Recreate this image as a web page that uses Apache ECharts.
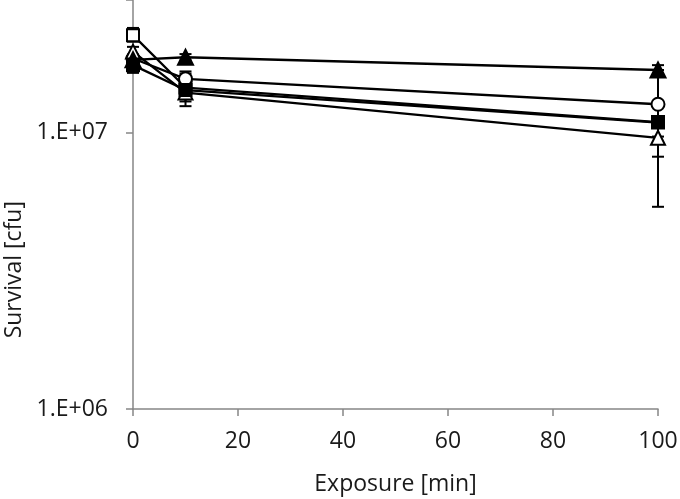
<!DOCTYPE html>
<html>
<head>
<meta charset="utf-8">
<script src="https://cdn.jsdelivr.net/npm/echarts@6/dist/echarts.min.js"></script>
<style>html,body{margin:0;padding:0;background:#fff}#c{width:680px;height:499px}</style>
</head>
<body>
<div id="c"></div>
<script>
const exposure = [0, 10, 100];
const xTicks = [0, 20, 40, 60, 80, 100];
const yTickLabels = ['1.E+06', '1.E+07'];

// survival values (cfu)
const openSquare   = [2.26e7, 1.46e7, 1.095e7];
const openTriangle = [1.97e7, 1.40e7, 9.6e6];
const openCircle   = [1.86e7, 1.57e7, 1.27e7];
const filledTri    = [1.84e7, 1.88e7, 1.69e7];
const filledSquare = [1.76e7, 1.43e7, 1.09e7];

// error bar ranges [low, high]
const openSquareErr   = [[2.14e7, 2.40e7], [1.30e7, 1.67e7], [1.05e7, 1.13e7]];
const openTriangleErr = [[1.88e7, 2.05e7], [1.25e7, 1.55e7], [5.4e6, 1.27e7]];
const openCircleErr   = [[1.8e7, 1.92e7], [1.50e7, 1.64e7], [9.7e6, 1.69e7]];
const filledTriErr    = [[1.78e7, 1.9e7], [1.83e7, 1.93e7], [1.62e7, 1.76e7]];
const filledSquareErr = [[1.65e7, 1.87e7], [1.36e7, 1.5e7], [8.2e6, 1.27e7]];

const Y_MIN = 1e6;
const Y_MAX = 3.03e7;

const FONT = 'Open Sans';
const seriesDefs = [
  {name: 'openSquare', vals: openSquare, err: openSquareErr, symbol: 'rect', size: 12, fill: '#fff'},
  {name: 'openCircle', vals: openCircle, err: openCircleErr, symbol: 'circle', size: 13, fill: '#fff'},
  {name: 'openTriangle', vals: openTriangle, err: openTriangleErr, symbol: 'triangle', size: 14, fill: '#fff'},
  {name: 'filledTri', vals: filledTri, err: filledTriErr, symbol: 'triangle', size: 15, fill: '#000'},
  {name: 'filledSquare', vals: filledSquare, err: filledSquareErr, symbol: 'rect', size: 12, fill: '#000'}
];

const series = [];
seriesDefs.forEach(function (d) {
  series.push({
    type: 'custom',
    name: d.name + '_err',
    z: 1,
    silent: true,
    data: exposure.map(function (x, i) { return [x, d.err[i][0], d.err[i][1]]; }),
    renderItem: function (params, api) {
      const lo = api.coord([api.value(0), api.value(1)]);
      const hi = api.coord([api.value(0), api.value(2)]);
      const w = 6;
      const st = {stroke: '#000', lineWidth: 2};
      return {type: 'group', children: [
        {type: 'line', shape: {x1: lo[0], y1: lo[1], x2: hi[0], y2: hi[1]}, style: st},
        {type: 'line', shape: {x1: lo[0] - w, y1: lo[1], x2: lo[0] + w, y2: lo[1]}, style: st},
        {type: 'line', shape: {x1: hi[0] - w, y1: hi[1], x2: hi[0] + w, y2: hi[1]}, style: st}
      ]};
    }
  });
});
seriesDefs.forEach(function (d, k) {
  series.push({
    type: 'line',
    name: d.name,
    z: 2 + k,
    data: exposure.map(function (x, i) { return [x, d.vals[i]]; }),
    symbol: d.symbol,
    symbolSize: d.size,
    showAllSymbol: true,
    lineStyle: {color: '#000', width: 2.3},
    itemStyle: {color: d.fill, borderColor: '#000', borderWidth: 2},
    emphasis: {disabled: true},
    animation: false
  });
});

const chart = echarts.init(document.getElementById('c'), null, {renderer: 'canvas'});
chart.setOption({
  animation: false,
  backgroundColor: '#fff',
  grid: {left: 133, right: 22, top: 0, bottom: 90, containLabel: false, outerBoundsMode: 'none'},
  xAxis: {
    type: 'value', min: xTicks[0], max: xTicks[xTicks.length - 1], interval: 20,
    axisLine: {lineStyle: {color: '#868686', width: 1.5}},
    axisTick: {show: true, inside: false, length: 7, lineStyle: {color: '#868686', width: 1.5}},
    axisLabel: {color: '#1a1a1a', fontFamily: FONT, fontSize: 23, margin: 21},
    splitLine: {show: false},
    name: 'Exposure [min]', nameLocation: 'middle', nameGap: 64,
    nameTextStyle: {color: '#1a1a1a', fontFamily: FONT, fontSize: 23}
  },
  yAxis: {
    type: 'log', logBase: 10, min: Y_MIN, max: Y_MAX,
    axisLine: {show: true, lineStyle: {color: '#868686', width: 1.5}},
    axisTick: {show: true, inside: false, length: 7, lineStyle: {color: '#868686', width: 1.5}},
    minorTick: {show: false},
    axisLabel: {color: '#1a1a1a', fontFamily: FONT, fontSize: 23, margin: 25,
      formatter: function (v) {
        const e = Math.round(Math.log10(v));
        const lbl = '1.E+' + (e < 10 ? '0' : '') + e;
        return (Math.abs(Math.log10(v) - e) < 1e-6 && yTickLabels.indexOf(lbl) >= 0) ? lbl : '';
      }},
    splitLine: {show: false}
  },
  graphic: [{
    type: 'text', left: 3, top: 201,
    rotation: Math.PI / 2,
    style: {text: 'Survival [cfu]', font: '23px "Open Sans"', fill: '#1a1a1a'}
  }],
  series: series
});
</script>
</body>
</html>
